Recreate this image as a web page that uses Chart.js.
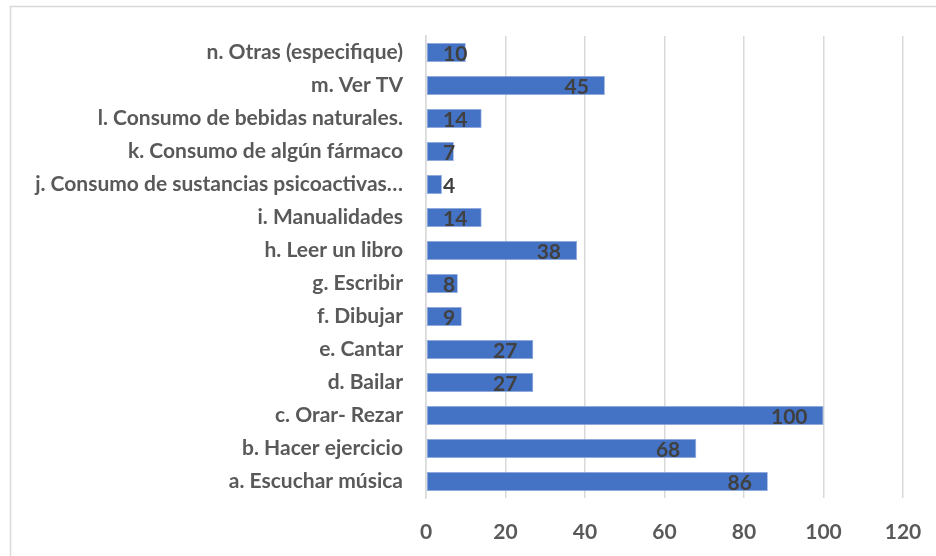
<!DOCTYPE html>
<html>
<head>
<meta charset="utf-8">
<script src="https://cdn.jsdelivr.net/npm/chart.js@4.4.1/dist/chart.umd.min.js"></script>
<style>
html,body{margin:0;padding:0;background:#fff;}
#wrap{width:936px;height:556px;position:relative;}
</style>
</head>
<body>
<div id="wrap"><canvas id="c" width="936" height="556"></canvas></div>
<script>
const categories = [
  "n. Otras (especifique)",
  "m. Ver TV",
  "l. Consumo de bebidas naturales.",
  "k. Consumo de algún fármaco",
  "j. Consumo de sustancias psicoactivas…",
  "i. Manualidades",
  "h. Leer un libro",
  "g. Escribir",
  "f. Dibujar",
  "e. Cantar",
  "d. Bailar",
  "c. Orar- Rezar",
  "b. Hacer ejercicio",
  "a. Escuchar música"
];
const values = [10, 45, 14, 7, 4, 14, 38, 8, 9, 27, 27, 100, 68, 86];
const xTicks = [0, 20, 40, 60, 80, 100, 120];

const FONT = "Lato, 'Open Sans', sans-serif";
const FSIZE = 21;

const borderPlugin = {
  id: 'borderBox',
  beforeDraw(chart) {
    const ctx = chart.ctx;
    ctx.save();
    ctx.strokeStyle = '#d9d9d9';
    ctx.lineWidth = 1.5;
    ctx.beginPath();
    ctx.moveTo(10.5, 556);
    ctx.lineTo(10.5, 6.5);
    ctx.lineTo(936, 6.5);
    ctx.stroke();
    ctx.restore();
  }
};

const labelPlugin = {
  id: 'valueLabels',
  afterDatasetsDraw(chart) {
    const ctx = chart.ctx;
    const meta = chart.getDatasetMeta(0);
    const xs = chart.scales.x;
    const base = xs.getPixelForValue(0);
    ctx.save();
    ctx.font = "bold " + FSIZE + "px " + FONT;
    ctx.fillStyle = '#404040';
    ctx.textBaseline = 'middle';
    ctx.textAlign = 'left';
    meta.data.forEach((bar, i) => {
      const txt = String(values[i]);
      const w = ctx.measureText(txt).width;
      let left = bar.x - 16 - w;
      if (left < base + 17) left = base + 17;
      ctx.fillText(txt, left, bar.y + 2);
    });
    ctx.restore();
  }
};

new Chart(document.getElementById('c'), {
  type: 'bar',
  data: {
    labels: categories,
    datasets: [{
      data: values,
      backgroundColor: '#4472c4',
      borderColor: '#8faadc',
      borderWidth: 0.8,
      borderSkipped: false,
      categoryPercentage: 1.0,
      barPercentage: 0.58
    }]
  },
  options: {
    indexAxis: 'y',
    responsive: false,
    animation: false,
    layout: { padding: { left: 10, right: 33, top: 36, bottom: 0 } },
    plugins: { legend: { display: false }, tooltip: { enabled: false } },
    scales: {
      x: {
        min: 0, max: 120,
        afterBuildTicks(scale) { scale.ticks = xTicks.map(v => ({ value: v })); },
        grid: { color: '#d9d9d9', lineWidth: 1.5, drawTicks: false },
        border: { display: false },
        ticks: {
          color: '#595959',
          font: { family: FONT, size: FSIZE, weight: 'bold' },
          padding: 22
        },
        afterFit(scale) {
          scale.height = 58;
          scale.paddingLeft = 0;
          scale.paddingRight = 0;
        }
      },
      y: {
        grid: { display: false, drawTicks: false },
        border: { display: true, color: '#d9d9d9', width: 1.5 },
        ticks: {
          color: '#595959',
          font: { family: FONT, size: FSIZE, weight: 'bold' },
          padding: 23,
          autoSkip: false
        },
        afterFit(scale) {
          scale.width = 416;
          scale.paddingTop = 0;
          scale.paddingBottom = 0;
        }
      }
    }
  },
  plugins: [borderPlugin, labelPlugin]
});
</script>
</body>
</html>
